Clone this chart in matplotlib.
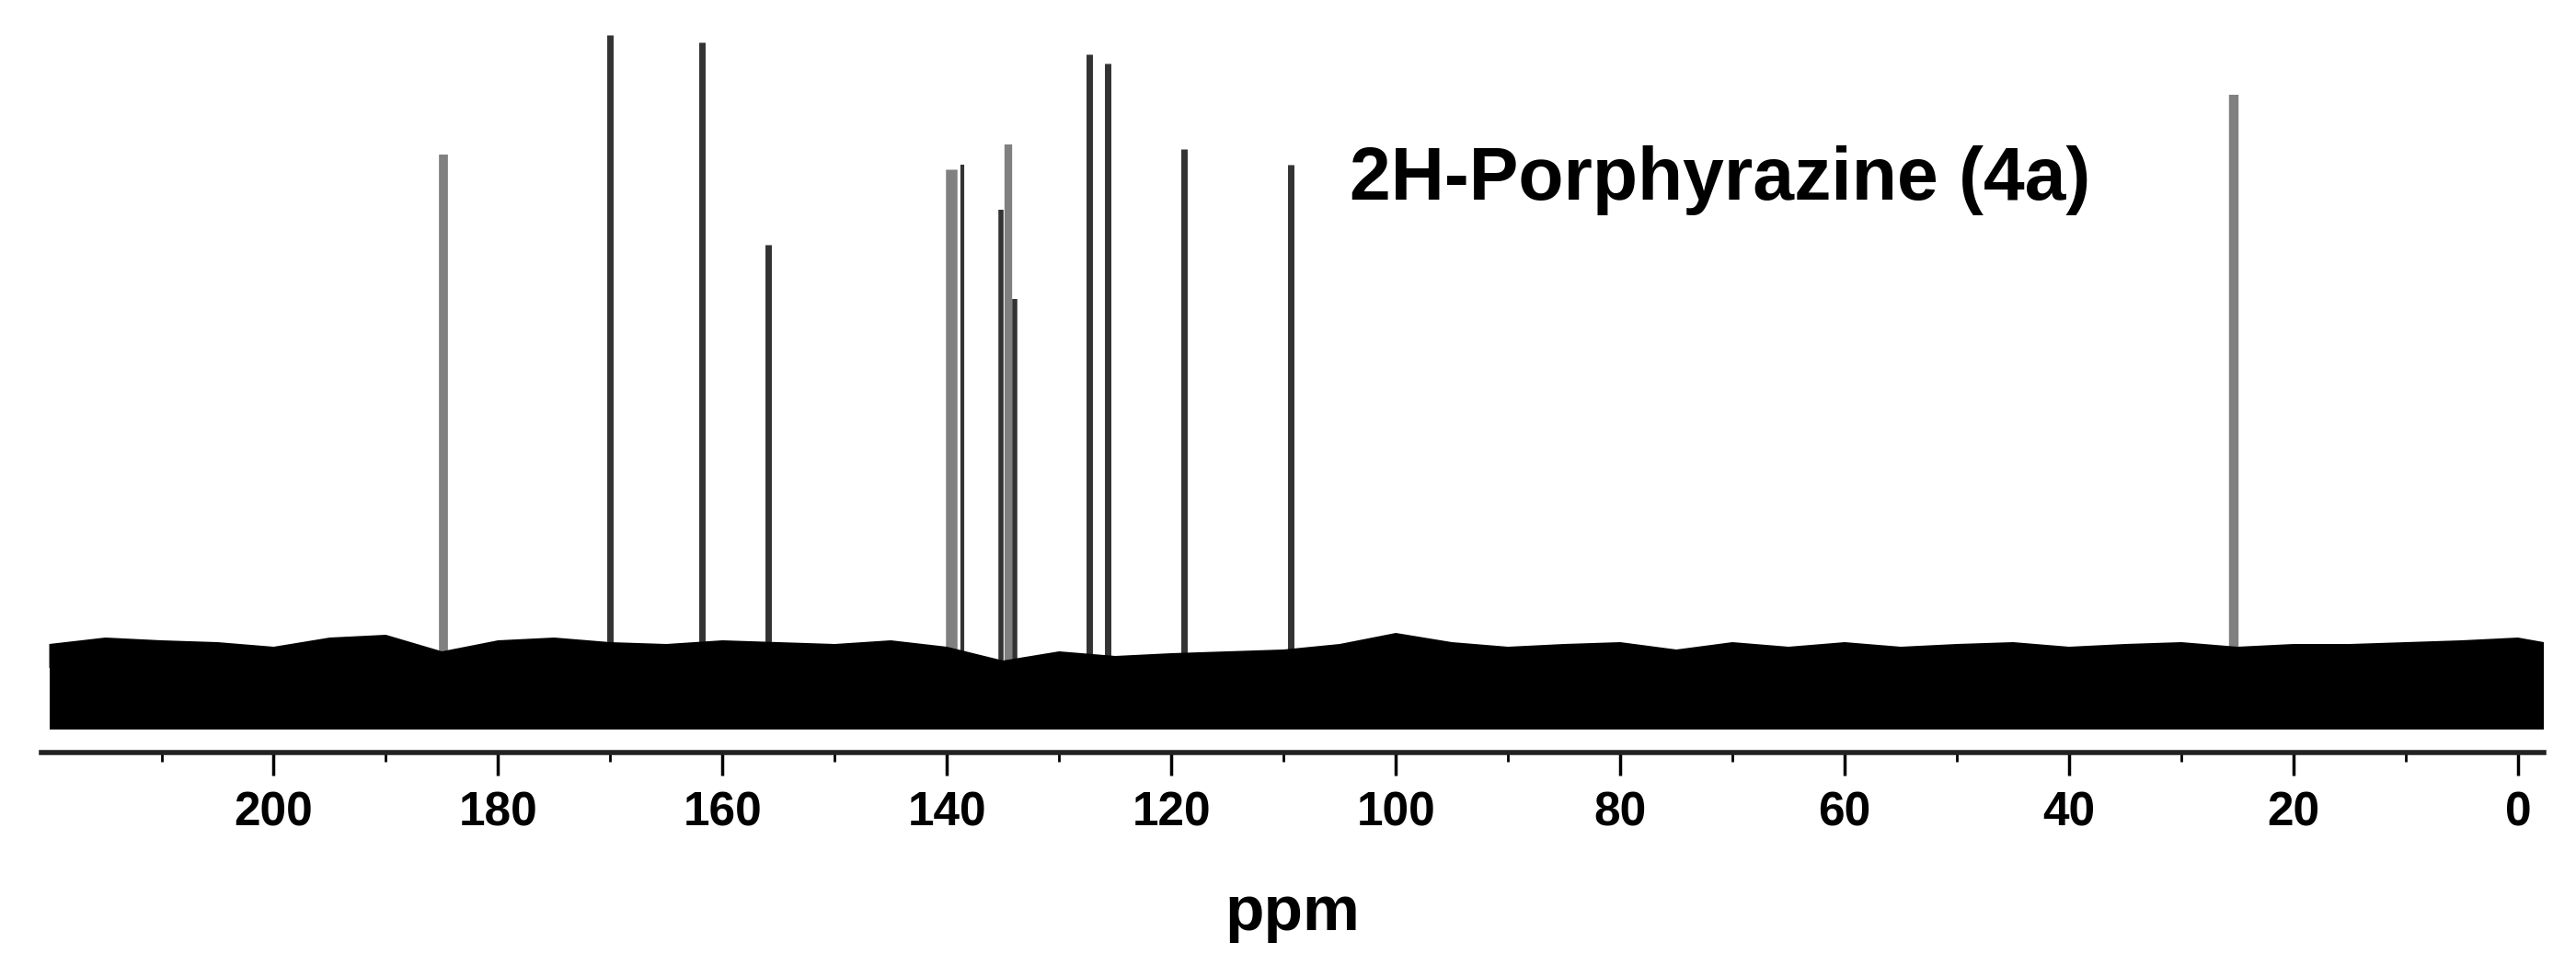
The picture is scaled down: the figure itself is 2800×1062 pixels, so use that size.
import numpy as np
from matplotlib import pyplot as plt

plt.rcParams['font.family'] = ['Liberation Sans', 'DejaVu Sans']
plt.rcParams['hatch.linewidth'] = 2.5

# 13C peaks: shift (ppm), height (a.u.), colour
peak_ppm = [184.9, 170.0, 161.8, 155.9, 139.6, 138.6, 135.2, 134.5, 134.0,
            127.3, 125.7, 118.9, 109.4, 25.3]
peak_height = [592, 722, 714, 494, 576, 581, 532, 603, 435,
               701, 691, 598, 581, 657]
peak_color = ['#808080', '#333333', '#333333', '#333333', '#808080', '#333333',
              '#333333', '#808080', '#333333', '#333333', '#333333', '#333333',
              '#333333', '#808080']
peak_width = [7, 5, 5, 5, 9, 3, 4, 6, 4, 5, 5, 5, 5, 7.5]

# noise floor: upper envelope read every 5 ppm
noise_ppm = [220, 215, 210, 205, 200, 195, 190, 185, 180, 175, 170, 165, 160,
             155, 150, 145, 140, 135, 130, 125, 120, 115, 110, 105, 100, 95,
             90, 85, 80, 75, 70, 65, 60, 55, 50, 45, 40, 35, 30, 25, 20, 15,
             10, 5, 0, -2.3]
noise_top = [60, 67, 64, 62, 57, 67, 70, 52, 64, 67, 62, 60, 64,
             62, 60, 64, 57, 42, 52, 47, 50, 52, 54, 60, 72, 62,
             57, 60, 62, 54, 62, 57, 62, 57, 60, 62, 57, 60, 62, 57, 60, 60,
             62, 64, 67, 62]
noise_core = 36
noise_bottom = -33

ticks = [200, 180, 160, 140, 120, 100, 80, 60, 40, 20, 0]
minor = [210, 190, 170, 150, 130, 110, 90, 70, 50, 30, 10]

fig = plt.figure(figsize=(28, 10.62), dpi=100)
ax = fig.add_axes([45/2800, 1-818/1062, 2720/2800, 788/1062])

ax.vlines(peak_ppm, 0, peak_height, colors=peak_color, linewidths=peak_width, zorder=2)
# dense part of the noise, then a striped fringe for the spikes
ax.fill_between(noise_ppm, noise_bottom, noise_core, color='black', lw=0, zorder=3)
ax.fill_between(noise_ppm, noise_core - 2, noise_top, facecolor='none',
                edgecolor='black', hatch='||||||', lw=0, zorder=3)

ax.set_xlim(220.7, -2.3)
ax.set_ylim(-58, 730)

for s in ['top', 'left', 'right']:
    ax.spines[s].set_visible(False)
ax.spines['bottom'].set_linewidth(4)
ax.spines['bottom'].set_color('#222222')
ax.set_yticks([])
ax.set_xticks(ticks)
ax.set_xticks(minor, minor=True)
ax.set_xticklabels([str(t) for t in ticks], fontsize=37, fontweight='bold')
ax.tick_params(axis='x', which='major', length=18, width=2.5, direction='out', pad=12)
ax.tick_params(axis='x', which='minor', length=7, width=2, direction='out')
ax.set_xlabel('ppm', fontsize=50, fontweight='bold', labelpad=38)

fig.text(1467/2800, 1-217/1062, '2H-Porphyrazine (4a)', fontsize=58,
         fontweight='bold', ha='left', va='baseline')

plt.savefig('out.png', dpi=100)
